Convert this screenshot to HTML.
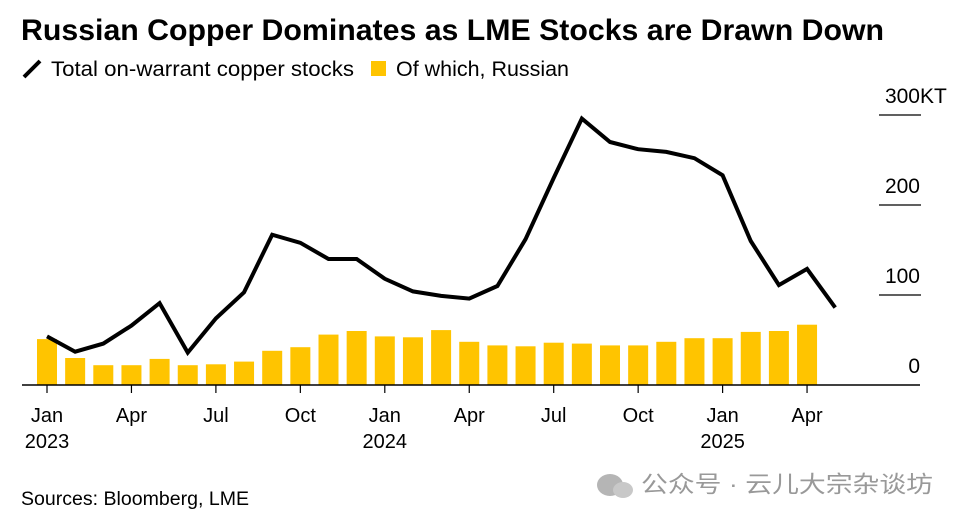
<!DOCTYPE html>
<html><head><meta charset="utf-8"><style>
body{margin:0;background:#fff;width:963px;height:521px;overflow:hidden;font-family:"Liberation Sans","Noto Sans CJK SC",sans-serif}
</style></head><body>
<svg width="963" height="521" style="display:block">
<text x="21" y="40" font-size="30" font-weight="bold" fill="#000" textLength="863" lengthAdjust="spacingAndGlyphs">Russian Copper Dominates as LME Stocks are Drawn Down</text>
<g>
<line x1="24" y1="77" x2="40" y2="61" stroke="#000" stroke-width="4"/>
<text x="51" y="76" font-size="21" textLength="303" lengthAdjust="spacingAndGlyphs">Total on-warrant copper stocks</text>
<rect x="371" y="61" width="15" height="15" fill="#ffc400"/>
<text x="396" y="76" font-size="21" textLength="173" lengthAdjust="spacingAndGlyphs">Of which, Russian</text>
</g>
<g id="plot"></g>
<text x="21" y="505" font-size="19" textLength="228" lengthAdjust="spacingAndGlyphs">Sources: Bloomberg, LME</text>
<g>
<ellipse cx="610" cy="485" rx="13" ry="11" fill="#b5b5b5"/>
<ellipse cx="623" cy="490" rx="10" ry="8" fill="#c8c8c8"/>
<text x="641" y="492" font-size="23" fill="#999" textLength="292" lengthAdjust="spacingAndGlyphs">公众号 · 云儿大宗杂谈坊</text>
</g>
</svg>
<script>
const months=["2023-01","2023-02","2023-03","2023-04","2023-05","2023-06","2023-07","2023-08","2023-09","2023-10","2023-11","2023-12","2024-01","2024-02","2024-03","2024-04","2024-05","2024-06","2024-07","2024-08","2024-09","2024-10","2024-11","2024-12","2025-01","2025-02","2025-03","2025-04","2025-05"];
const totalStocks=[54,37,46,66,91,36,74,103,167,158,140,140,118,104,99,96,110,162,230,296,270,262,259,252,233,160,111,129,86];
const russianStocks=[51,30,22,22,29,22,23,26,38,42,56,60,54,53,61,48,44,43,47,46,44,44,48,52,52,59,60,67,null];
const yTicks=[0,100,200,300];
const yTickLabels=["0","100","200","300"];
const xLabelIdx=[0,3,6,9,12,15,18,21,24,27];
const xLabels=["Jan","Apr","Jul","Oct","Jan","Apr","Jul","Oct","Jan","Apr"];
const xYears={0:"2023",12:"2024",24:"2025"};

const NS="http://www.w3.org/2000/svg";
const g=document.getElementById('plot');
const x=i=>47+i*28.15;
const y=v=>385-v*0.9;
function mk(t,a){const e=document.createElementNS(NS,t);for(const k in a)e.setAttribute(k,a[k]);g.appendChild(e);return e;}
yTicks.forEach((v,i)=>{
  if(v>0){const l=mk('line',{x1:879,x2:921,y1:y(v),y2:y(v),stroke:'#000','stroke-width':1.3});
  
  }
  const t=mk('text',{x:920,y:y(v)-12,'text-anchor':'end','font-size':21});
  t.textContent=yTickLabels[i];
  
  
  if(i===yTicks.length-1){const u=mk('text',{x:920,y:y(v)-12,'font-size':21});
  u.textContent='KT';
  
  }
});
russianStocks.forEach((v,i)=>{
  if(v==null)return;
  const r=mk('rect',{x:x(i)-10,y:y(v),width:20,height:y(0)-y(v),fill:'#ffc400'});
  
  
});
const base=mk('line',{x1:22,x2:920,y1:385,y2:385,stroke:'#000','stroke-width':1.5});


xLabelIdx.forEach((idx,k)=>{
  const tk=mk('line',{x1:x(idx),x2:x(idx),y1:385,y2:393,stroke:'#000','stroke-width':1.2});
  
  
  const t=mk('text',{x:x(idx),y:422,'text-anchor':'middle','font-size':20});
  t.textContent=xLabels[k];
  
  
  if(xYears[idx]){const yt=mk('text',{x:x(idx),y:448,'text-anchor':'middle','font-size':20});
  yt.textContent=xYears[idx];
  
  }
});
const p=mk('polyline',{points:totalStocks.map((v,i)=>x(i)+','+y(v)).join(' '),fill:'none',stroke:'#000','stroke-width':4,'stroke-linejoin':'miter'});


</script>
</body></html>
